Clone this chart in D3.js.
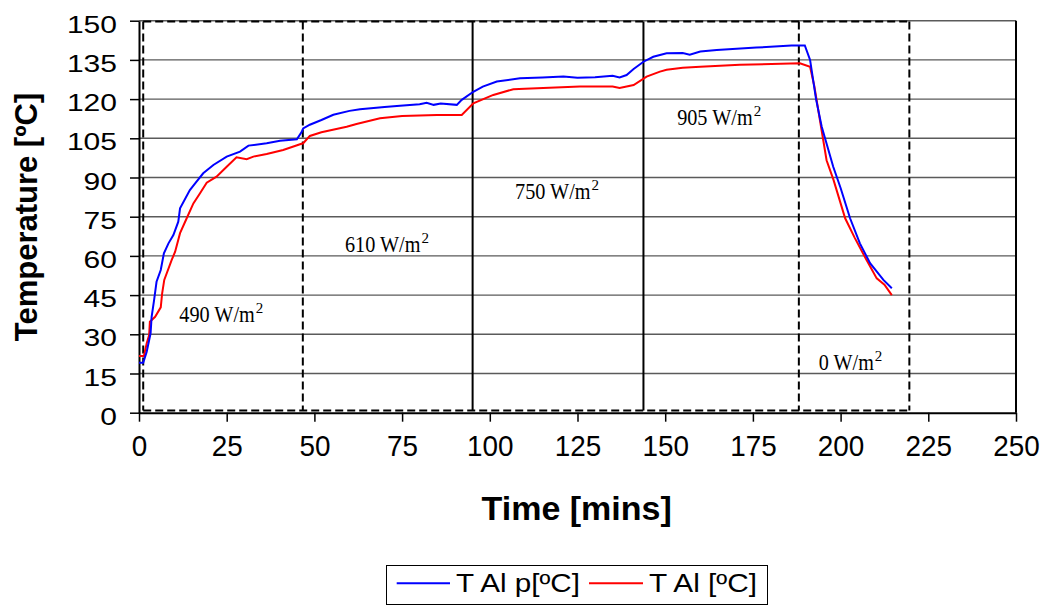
<!DOCTYPE html>
<html><head><meta charset="utf-8">
<script src="https://cdn.jsdelivr.net/npm/d3@7"></script>
<style>body{margin:0;background:#fff}svg{display:block}</style>
</head><body>
<svg id="c" width="1045" height="606"></svg>
<script>
// ---- data ----
const timeP = [0,1.2,2.2,3.3,3.6,4.3,5.0,6.2,7.1,8.4,9.8,11.2,11.7,14.5,16.4,18.3,21.2,25,28.8,31.2,36.4,40.2,45,46.4,46.8,48.7,52,55.4,60,63,70,74.4,80,82,84,86,90.6,92,95.3,98,102,108.6,115,121,125,130,135,137,139,141,143.8,146.6,150.4,155,157,160,164.7,176,186,189.8,191.3,193,194.6,197.9,200,202.7,205.5,208.4,212.2,214.6];
const tempP = [19.1,19.1,23.3,30.4,36.7,43.1,50.1,54.6,61,64.8,68,73.1,78.2,85.2,88.4,91.6,94.8,98,99.9,102.2,103.1,104.1,104.6,107.5,108.8,110.2,112,114,115.5,116.1,117,117.5,118,118.6,117.8,118.3,117.8,119.7,122.8,124.8,126.7,128,128.3,128.6,128.2,128.4,128.9,128.3,129.2,131.5,134.3,136.2,137.5,137.6,137,138.2,138.8,139.7,140.5,140.5,135,120,109.5,94.1,86,74.4,64.8,57.2,50.8,47.6];
const timeA = [0,1.4,2.2,2.9,3.1,4.6,6.2,6.6,7.2,9.3,10.3,11.7,13.6,15.5,17.4,19.3,22.1,25,27.8,30.7,32.6,36.4,41.1,45.9,46.8,48.7,52,59.2,62,68.7,75,84.9,92,95.3,101,106.7,110,125.7,135,137,141,144.7,148.5,150.4,155,160,171.3,188.4,191.3,192.5,194.1,196,198,201.3,204,207.4,210.3,212.5,214.6];
const tempA = [21.7,21.7,26.6,29.7,34.8,36.7,40.3,45.7,50.8,58.4,61.6,68.7,74.4,80.1,84,88,90.3,94.1,97.7,97,98,99,100.5,102.7,103.1,105.9,107.3,109.4,110.5,112.7,113.5,113.9,113.9,118.4,121.6,123.8,124,124.8,124.8,124.3,125.4,128.6,130.5,131.2,132,132.4,133.1,133.7,132.4,125,112,96.6,89,74.4,67,58.4,51.4,49,45];
const seriesNames = ["T Al p[ºC]", "T Al [ºC]"];
const xTicks = [0,25,50,75,100,125,150,175,200,225,250];
const yTicks = [0,15,30,45,60,75,90,105,120,135,150];
const phaseTimes = [1.2,46.7,95.1,143.8,188.1,219.6];
const phaseSolid = [false,false,true,true,false,false];
const powerLabels = ["490","610","750","905","0"];
const xTitle = "Time [mins]";
const yTitle = "Temperature [ºC]";

// ---- layout ----
const annotAnchor = [[11.49,34.8],[58.72,61.6],[107.2,81.7],[153.4,110.1],[193.8,16.3]];
const boxBottom = 0.8;

const svg = d3.select("#c");
const x = d3.scaleLinear().domain([0,250]).range([139,1016]);
const y = d3.scaleLinear().domain([0,150]).range([412.7,20.7]);

// gridlines
svg.append("g").selectAll("line").data(yTicks.filter(v=>v>0)).join("line")
  .attr("x1",x(0)).attr("x2",x(250)).attr("y1",d=>y(d)).attr("y2",d=>y(d))
  .attr("stroke","#5a5a5a").attr("stroke-width",1.4);
// right border
svg.append("line").attr("x1",x(250)).attr("x2",x(250)).attr("y1",y(150)).attr("y2",y(0))
  .attr("stroke","#000").attr("stroke-width",2);

// phase lines
const dashBoxTop = 149.7;
svg.append("g").selectAll("line").data(phaseTimes).join("line")
  .attr("x1",d=>x(d)).attr("x2",d=>x(d)).attr("y1",y(dashBoxTop)).attr("y2",y(boxBottom))
  .attr("stroke","#000").attr("stroke-width",2)
  .attr("stroke-dasharray",(d,i)=>phaseSolid[i]?null:"8,4");
// dashed box top & bottom
[dashBoxTop, boxBottom].forEach(v=>{
  svg.append("line").attr("x1",x(phaseTimes[0])).attr("x2",x(phaseTimes[phaseTimes.length-1]))
    .attr("y1",y(v)).attr("y2",y(v)).attr("stroke","#000").attr("stroke-width",2)
    .attr("stroke-dasharray","8,4");
});

// axes
const ya = d3.axisLeft(y).tickValues(yTicks).tickSize(9).tickSizeOuter(0).tickPadding(13);
const yg = svg.append("g").attr("transform",`translate(${x(0)},0)`).call(ya);
yg.select(".domain").attr("stroke","#000").attr("stroke-width",2);
yg.selectAll(".tick line").attr("stroke","#000").attr("stroke-width",1.5);
yg.selectAll(".tick text").attr("font-family","'Liberation Sans',Arial,sans-serif")
  .attr("font-size",24).attr("fill","#000").attr("dy","0.48em")
  .attr("textLength",d=>String(d).length*16.7).attr("lengthAdjust","spacingAndGlyphs");

const xa = d3.axisBottom(x).tickValues(xTicks).tickSize(9).tickSizeOuter(0).tickPadding(13);
const xg = svg.append("g").attr("transform",`translate(0,${y(0)})`).call(xa);
xg.select(".domain").attr("stroke","#000").attr("stroke-width",2);
xg.selectAll(".tick line").attr("stroke","#000").attr("stroke-width",1.5);
xg.selectAll(".tick text").attr("font-family","'Liberation Sans',Arial,sans-serif")
  .attr("font-size",30).attr("fill","#000").attr("dy","0.71em")
  .attr("textLength",d=>String(d).length*15.5).attr("lengthAdjust","spacingAndGlyphs");

// series
const line = d3.line().x(d=>x(d[0])).y(d=>y(d[1]));
svg.append("path").datum(timeA.map((t,i)=>[t,tempA[i]])).attr("d",line)
  .attr("fill","none").attr("stroke","#ff0000").attr("stroke-width",2);
svg.append("path").datum(timeP.map((t,i)=>[t,tempP[i]])).attr("d",line)
  .attr("fill","none").attr("stroke","#0000ff").attr("stroke-width",2);

// annotations
powerLabels.forEach((lab,i)=>{
  const [t,v] = annotAnchor[i];
  const txt = svg.append("text").attr("x",x(t)).attr("y",y(v))
    .attr("font-family","'Liberation Serif','Times New Roman',serif").attr("font-size",23);
  txt.append("tspan").text(lab + " W/m")
    .attr("textLength",lab.length===1?55:75.5).attr("lengthAdjust","spacingAndGlyphs");
  txt.append("tspan").text("2").attr("font-size",15).attr("dx",1).attr("dy",-9);
});

// titles
svg.append("text").attr("x",576.7).attr("y",519.5).attr("text-anchor","middle")
  .attr("font-family","'Liberation Sans',Arial,sans-serif").attr("font-weight","bold")
  .attr("font-size",34).text(xTitle);
svg.append("text").attr("transform","translate(37,217) rotate(-90)").attr("text-anchor","middle")
  .attr("font-family","'Liberation Sans',Arial,sans-serif").attr("font-weight","bold")
  .attr("font-size",31).text(yTitle);

// legend
const lg = svg.append("g");
lg.append("rect").attr("x",386.5).attr("y",565.5).attr("width",381).attr("height",39)
  .attr("fill","#fff").attr("stroke","#000").attr("stroke-width",1);
const legX = [[396.7,450,456,124],[589,643,649,108]];
const legCol = ["#0000ff","#ff0000"];
seriesNames.forEach((n,i)=>{
  const [a,b,tx,tl] = legX[i];
  lg.append("line").attr("x1",a).attr("x2",b).attr("y1",583.3).attr("y2",583.3)
    .attr("stroke",legCol[i]).attr("stroke-width",2);
  lg.append("text").attr("x",tx).attr("y",591.7).text(n)
    .attr("font-family","'Liberation Sans',Arial,sans-serif").attr("font-size",25.6)
    .attr("textLength",tl).attr("lengthAdjust","spacingAndGlyphs");
});
</script>
</body></html>
